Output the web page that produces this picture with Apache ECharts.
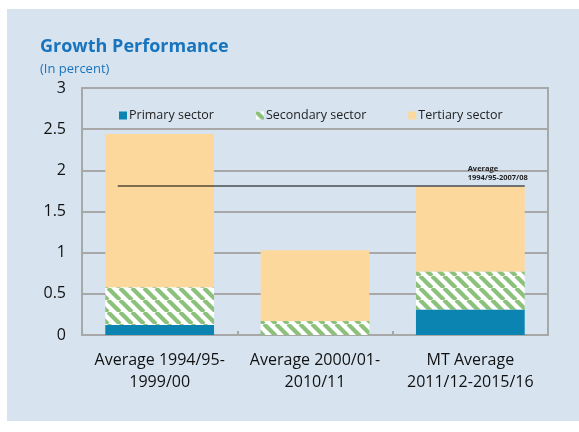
<!DOCTYPE html>
<html><head><meta charset="utf-8">
<script src="https://cdn.jsdelivr.net/npm/echarts@6/dist/echarts.min.js"></script>
<style>html,body{margin:0;padding:0;background:#fff}#c{width:579px;height:432px}</style>
</head><body><div id="c"></div>
<script>
var categories = ['Average 1994/95-\n1999/00', 'Average 2000/01-\n2010/11', 'MT Average\n2011/12-2015/16'];
var primary = [0.12, 0, 0.31];
var secondary = [0.46, 0.17, 0.46];
var tertiary = [1.86, 0.86, 1.03];
var avgValue = 1.81;
var avgSpan = [-0.27, 2.35];
var yTicks = [0, 0.5, 1, 1.5, 2, 2.5, 3];

function stripe(){
  var s = 12, c = document.createElement('canvas');
  c.width = s; c.height = s;
  var g = c.getContext('2d');
  g.fillStyle = '#ffffff'; g.fillRect(0,0,s,s);
  g.strokeStyle = '#8cc17b'; g.lineWidth = 4.2;
  for (var k=-1;k<=1;k++){
    g.beginPath(); g.moveTo(k*s, 0); g.lineTo(k*s + s, s); g.stroke();
  }
  return {image: c, repeat: 'repeat'};
}
var pat = stripe();
var chart = echarts.init(document.getElementById('c'), null, {renderer:'canvas'});
var font = 'Open Sans';
chart.setOption({
  animation:false,
  backgroundColor:'#ffffff',
  graphic:[{type:'rect', shape:{x:7,y:9,width:572,height:412}, style:{fill:'#d7e4f0'}, z:-10}],
  title:[{text:'Growth Performance', left:35, top:33, textStyle:{fontFamily:font, fontSize:18, fontWeight:'bold', color:'#1874bd'}},
         {text:'(In percent)', left:35, top:58, textStyle:{fontFamily:font, fontSize:13, fontWeight:'normal', color:'#1874bd'}}],
  legend:{top:104, left:114, itemWidth:8, itemHeight:8, itemGap:42, icon:'rect',
    textStyle:{fontFamily:font, fontSize:12.5, color:'#222', padding:[0,0,0,-3]},
    data:['Primary sector','Secondary sector','Tertiary sector']},
  grid:{left:82, right:31, top:88, bottom:97, show:true, borderColor:'#a8a8a8', borderWidth:2},
  xAxis:[{type:'category', data:categories,
    axisLine:{lineStyle:{color:'#a8a8a8', width:2}},
    axisTick:{show:true, inside:true, length:4, lineStyle:{color:'#a8a8a8', width:2}},
    axisLabel:{fontFamily:font, fontSize:16, color:'#111', margin:14, lineHeight:22, interval:0}},
    {type:'value', min:-0.5, max:2.5, show:false}],
  yAxis:{type:'value', min:0, max:3, interval:0.5,
    axisLine:{show:true, onZero:false, lineStyle:{color:'#a8a8a8', width:2}},
    axisTick:{show:false},
    splitLine:{lineStyle:{color:'#a8a8a8', width:2}},
    axisLabel:{fontFamily:font, fontSize:16, color:'#111', margin:16,
      formatter:function(v){return yTicks.indexOf(v)>=0 ? String(v) : '';}}},
  series:[
    {name:'Primary sector', type:'bar', stack:'s', data:primary, barWidth:'70%', itemStyle:{color:'#0b84b2'}},
    {name:'Secondary sector', type:'bar', stack:'s', data:secondary, itemStyle:{color:pat}},
    {name:'Tertiary sector', type:'bar', stack:'s', data:tertiary, itemStyle:{color:'#fdd89d'}},
    {name:'avg', type:'line', xAxisIndex:1, data:[[avgSpan[0],avgValue],[avgSpan[1],avgValue]],
      symbol:'none', lineStyle:{color:'#000', width:1.2}, z:5,
      endLabel:{show:true, formatter:'Average\n1994/95-2007/08', position:'right', align:'left', distance:0, offset:[-57,-13],
        fontFamily:font, fontSize:7.5, fontWeight:'bold', color:'#222', lineHeight:9}}
  ]
});
</script></body></html>
